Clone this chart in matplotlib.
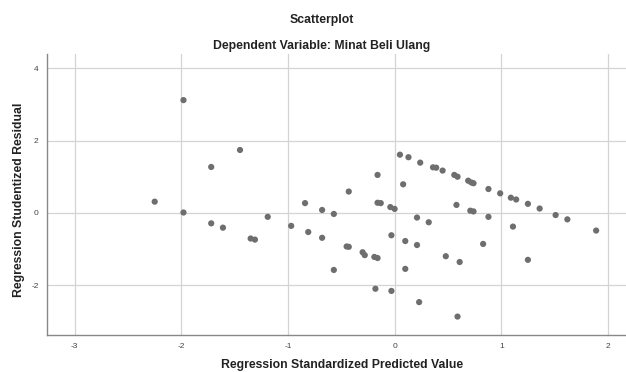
import matplotlib
matplotlib.use("Agg")
import matplotlib.pyplot as plt

plt.rcParams['font.family'] = ['Liberation Sans', 'DejaVu Sans']

pred = [-1.98, -1.45, -1.72, -2.25, -1.98, -1.72, -1.61, -1.35, -1.31, -1.19,
        -0.97, -0.84, -0.81, -0.68, -0.68, -0.57, -0.57,
        -0.43, -0.45, -0.43, -0.30, -0.28, -0.19, -0.16, -0.18, -0.16, -0.16,
        -0.13, -0.03, -0.03, -0.04, 0.00, 0.05, 0.13, 0.08, 0.24, 0.10, 0.10,
        0.21, 0.21, 0.23, 0.32, 0.36, 0.39, 0.45, 0.48, 0.56, 0.59, 0.58, 0.61,
        0.59, 0.69, 0.72, 0.74, 0.71, 0.74, 0.83, 0.88, 0.88, 0.99, 1.09, 1.14,
        1.11, 1.25, 1.25, 1.36, 1.51, 1.62, 1.89]
resid = [3.12, 1.74, 1.27, 0.31, 0.01, -0.29, -0.41, -0.71, -0.74, -0.11,
         -0.36, 0.27, -0.53, 0.08, -0.69, -0.03, -1.58,
         0.59, -0.93, -0.94, -1.09, -1.17, -1.22, -1.25, -2.10, 1.05, 0.28,
         0.27, -0.62, -2.16, 0.16, 0.11, 1.61, 1.54, 0.79, 1.39, -0.78, -1.55,
         -0.13, -0.89, -2.47, -0.26, 1.26, 1.25, 1.17, -1.20, 1.05, 1.00, 0.22, -1.36,
         -2.87, 0.89, 0.84, 0.82, 0.06, 0.04, -0.86, 0.66, -0.11, 0.54, 0.42, 0.37,
         -0.38, 0.25, -1.30, 0.12, -0.06, -0.18, -0.49]

xticks = [-3, -2, -1, 0, 1, 2]
yticks = [-2, 0, 2, 4]

fig = plt.figure(figsize=(6.26, 3.72), dpi=100)
ax = fig.add_axes([47/626, 1 - 335/372, (626 - 47)/626, (335 - 53.5)/372])
ax.set_xlim(-3.26, 2.17)
ax.set_ylim(-3.38, 4.41)

ax.scatter(pred, resid, s=20, color='#6e6e6e', edgecolors='none', zorder=3)

ax.set_xticks(xticks)
ax.set_yticks(yticks)
ax.set_xticklabels([str(t) for t in xticks])
ax.set_yticklabels([str(t) for t in yticks])
ax.tick_params(axis='both', length=0, labelsize=6, colors='#444444', pad=6)
ax.grid(True, color='#d4d4d4', linewidth=0.9, zorder=0)
ax.set_axisbelow(True)
for s in ['top', 'right']:
    ax.spines[s].set_visible(False)
for s in ['left', 'bottom']:
    ax.spines[s].set_color('#888888')
    ax.spines[s].set_linewidth(1.0)

fs = 8.8
fig.text(322/626, 1 - 20.5/372, 'Scatterplot', ha='center', va='center',
         fontsize=fs, fontweight='bold', color='#222222')
fig.text(322/626, 1 - 45.5/372, 'Dependent Variable: Minat Beli Ulang', ha='center', va='center',
         fontsize=fs, fontweight='bold', color='#222222')
fig.text(342/626, 1 - 365/372, 'Regression Standardized Predicted Value', ha='center', va='center',
         fontsize=fs, fontweight='bold', color='#222222')
fig.text(19/626, 1 - 200/372, 'Regression Studentized Residual', ha='center', va='center',
         rotation=90, fontsize=fs, fontweight='bold', color='#222222')

fig.savefig('out.png', dpi=100)
